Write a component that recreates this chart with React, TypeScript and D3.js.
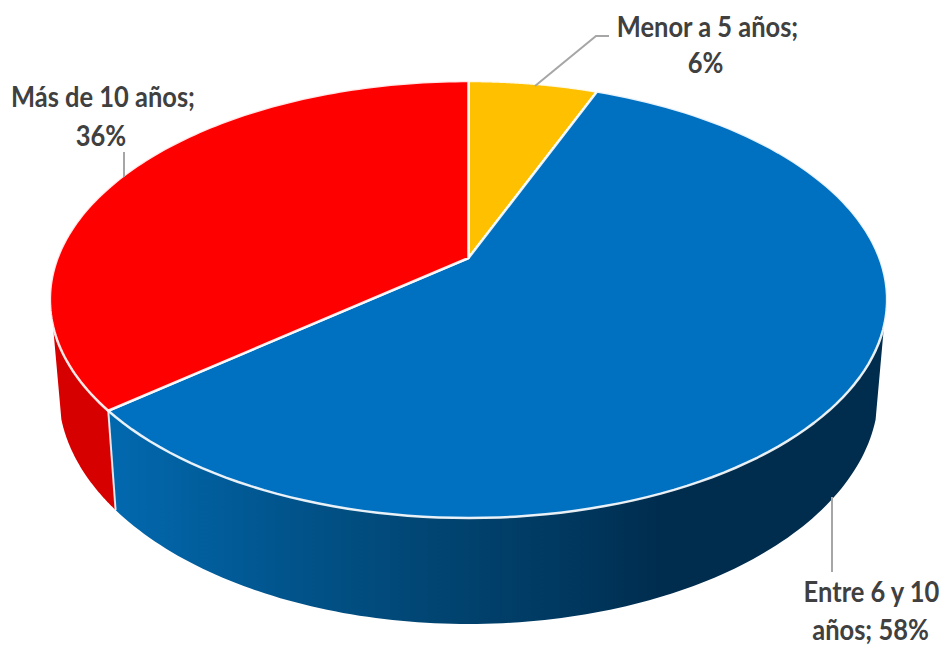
import React from "react";
import * as d3 from "d3";

// Share of respondents by length of service
const categories = ["Menor a 5 años", "Entre 6 y 10 años", "Más de 10 años"];
const shares = [6, 58, 36];
const topColors = ["#FFC000", "#0070C0", "#FF0000"];
const wallColors = ["#CC9A00", "url(#blueWall)", "#D60000"];
const blueWallStops: [number, string][] = [
  [0, "#0268AE"],
  [0.2, "#01568F"],
  [0.4, "#014674"],
  [0.6, "#00375E"],
  [0.72, "#002C4D"],
  [1, "#002C4D"],
];

const WIDTH = 942;
const HEIGHT = 646;
const RAD = Math.PI / 180;

// Perspective view of the pie's top face
const apex = { x: 468.5, y: 258 };
const tilt = 0.19;
const spreadX = 411;
const spreadY = 210.6;

// Ellipses traced by the upper and lower rims
const rimTop = { cx: 468.5, cy: 299.5, rx: 418.5, ry: 218.5 };
const rimBottom = { cx: 468.5, cy: 392, rx: 410, ry: 232 };

// Range of rim angles where the side wall faces the viewer
const wallStart = 96.8 * RAD;
const wallEnd = 263.2 * RAD;

type Pt = [number, number];

const project = (angle: number): Pt => {
  const u = Math.sin(angle);
  const v = Math.cos(angle);
  const w = 1 + tilt * v;
  return [apex.x + (spreadX * u) / w, apex.y - (spreadY * v) / w];
};

const rimAngle = (angle: number): number => {
  const [x, y] = project(angle);
  const phi = Math.atan2((x - rimTop.cx) / rimTop.rx, -(y - rimTop.cy) / rimTop.ry);
  return phi < 0 ? phi + 2 * Math.PI : phi;
};

const onRim = (rim: typeof rimTop, phi: number): Pt => [
  rim.cx + rim.rx * Math.sin(phi),
  rim.cy - rim.ry * Math.cos(phi),
];

const steps = (a: number, b: number, n = 120): number[] =>
  d3.range(n + 1).map((i) => a + ((b - a) * i) / n);

const path = d3.line<Pt>();

const pie = d3.pie<number>().sort(null).value((d) => d);
const arcs = pie(shares);

const faces = arcs.map((s) =>
  path([[apex.x, apex.y], ...steps(s.startAngle, s.endAngle).map(project)])! + "Z"
);

const walls = arcs.map((s, i) => {
  const a = Math.max(rimAngle(s.startAngle), wallStart);
  const b = Math.min(s.endAngle >= 2 * Math.PI ? wallEnd : rimAngle(s.endAngle), wallEnd);
  if (b <= a) return null;
  const upper = steps(a, b).map((p) => onRim(rimTop, p));
  const lower = steps(b, a).map((p) => onRim(rimBottom, p));
  return { d: path([...upper, ...lower])! + "Z", fill: wallColors[i], a, b };
});

// Seams run down the wall wherever two slices meet inside the visible range
const seams = arcs
  .map((s) => rimAngle(s.endAngle))
  .filter((p) => p > wallStart && p < wallEnd)
  .map((p) => path([onRim(rimTop, p), onRim(rimBottom, p)])!);

const labelLines = [
  { text: "Menor a 5 años;", x: 707.5, y: 37 },
  { text: `${shares[0]}%`, x: 705.5, y: 73 },
  { text: "Más de 10 años;", x: 103, y: 107 },
  { text: `${shares[2]}%`, x: 101, y: 146 },
  { text: "Entre 6 y 10", x: 871.5, y: 602 },
  { text: `años; ${shares[1]}%`, x: 870.5, y: 640 },
];

const labelSqueeze = 0.91;

const leaders: Pt[][] = [
  [[535, 86], [596, 36], [609, 36]],
  [[124, 152], [124, 177]],
  [[832, 497], [832, 572]],
];

export default function App() {
  return (
    <svg
      width={WIDTH}
      height={HEIGHT}
      viewBox={`0 0 ${WIDTH} ${HEIGHT}`}
      style={{ position: "absolute", left: 0, top: 0, display: "block", background: "#fff" }}
      role="img"
      aria-label={categories.join(", ")}
    >
      <defs>
        <linearGradient
          id="blueWall"
          gradientUnits="userSpaceOnUse"
          x1={117}
          x2={883}
          y1={0}
          y2={0}
        >
          {blueWallStops.map(([o, c]) => (
            <stop key={o} offset={o} stopColor={c} />
          ))}
        </linearGradient>
      </defs>

      {walls.map((w, i) => w && <path key={i} d={w.d} fill={w.fill} />)}
      {seams.map((d, i) => (
        <path key={i} d={d} stroke="#fff" strokeOpacity={0.85} strokeWidth={2} fill="none" />
      ))}

      {faces.map((d, i) => (
        <path
          key={categories[i]}
          d={d}
          fill={topColors[i]}
          stroke="#fff"
          strokeOpacity={0.9}
          strokeWidth={2.5}
          strokeLinejoin="round"
        />
      ))}

      {leaders.map((pts, i) => (
        <path key={i} d={path(pts)!} fill="none" stroke="#A6A6A6" strokeWidth={2} />
      ))}

      {labelLines.map((l) => (
        <text
          key={l.text}
          transform={`translate(${l.x},${l.y}) scale(${labelSqueeze},1)`}
          textAnchor="middle"
          fontFamily="Lato, sans-serif"
          fontWeight={700}
          fontSize={28}
          fill="#404040"
        >
          {l.text}
        </text>
      ))}
    </svg>
  );
}
